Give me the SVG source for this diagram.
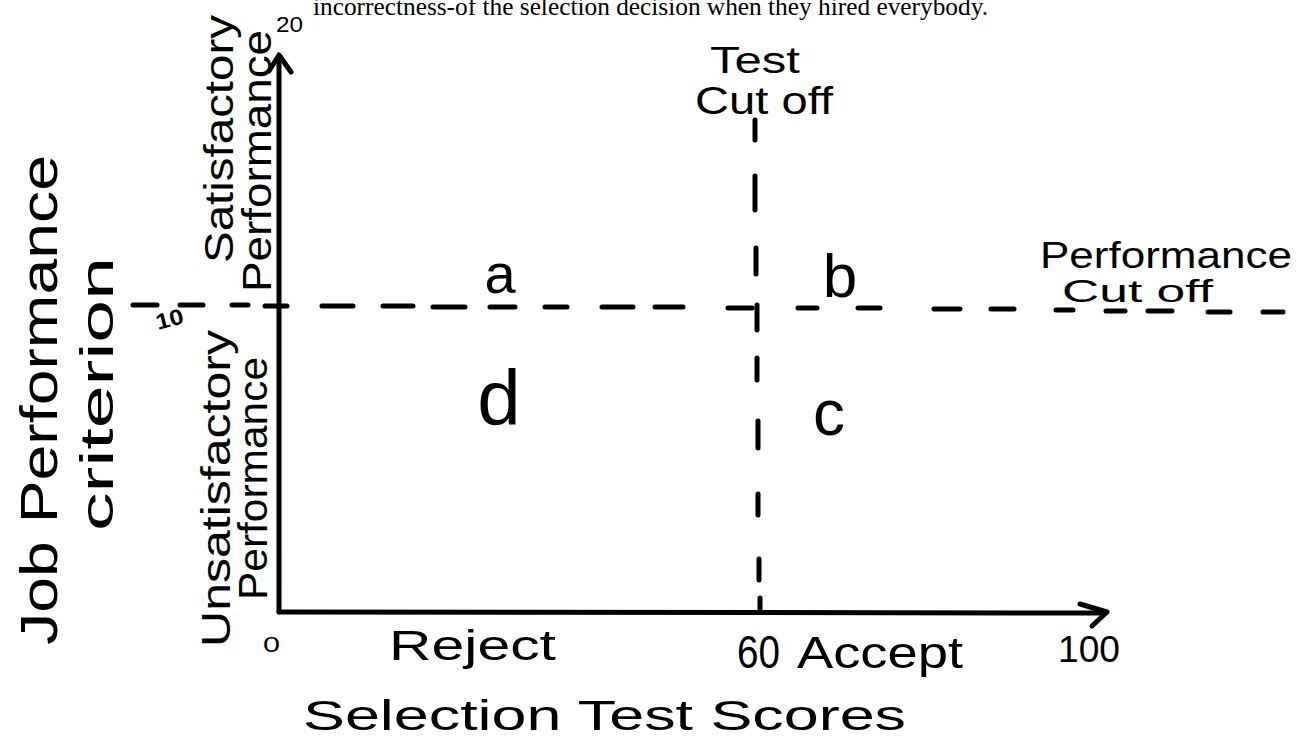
<svg xmlns="http://www.w3.org/2000/svg" width="1310" height="739" viewBox="0 0 1310 739">
<style>
.hand{font-family:"Liberation Sans","DejaVu Sans",sans-serif;fill:#000;}
.serif{font-family:"Liberation Serif","Times New Roman",serif;fill:#000;}
.axis{stroke:#000;stroke-width:5;fill:none;stroke-linecap:round;stroke-linejoin:round;}
.dash{stroke:#000;stroke-width:5;fill:none;stroke-linecap:round;}
</style>
<rect width="1310" height="739" fill="#fff"/>
<g id="header"><text class="serif" x="313" y="15" font-size="26" textLength="675" lengthAdjust="spacingAndGlyphs">incorrectness-of the selection decision when they hired everybody.</text></g>
<g id="connectors">
<path class="axis" d="M279 612 L279 56"/>
<path class="axis" d="M269 71 L279 55 L291 72"/>
<path class="axis" d="M279 612 L1105 613"/>
<path class="axis" d="M1080 604 L1107 612 L1092 626"/>
<path class="dash" d="M133 305h24 M180 305h23 M232 305h16 M265 306h22 M322 306h31 M383 306h30 M433 307h32 M490 307h25 M545 307h22 M602 307h31 M655 307h28 M728 308h24 M798 308h19 M858 308h22 M934 309h26 M991 309h23 M1056 310h17 M1106 311h19 M1148 311h24 M1208 312h22 M1263 312h20"/>
<path class="dash" d="M755 120v20 M755 176v34 M756 248v26 M757 305v25 M757 358v22 M758 421v27 M758 494v21 M759 559v21 M760 598v12"/>
</g>
<g id="y-title"><text class="hand" transform="translate(57,645) rotate(-90)" font-size="52" textLength="490" lengthAdjust="spacingAndGlyphs">Job Performance</text>
<text class="hand" transform="translate(113,531) rotate(-90)" font-size="46" textLength="274" lengthAdjust="spacingAndGlyphs">criterion</text></g>
<g id="satisfactory"><text class="hand" transform="translate(233,263) rotate(-90)" font-size="40" textLength="248" lengthAdjust="spacingAndGlyphs">Satisfactory</text>
<text class="hand" transform="translate(271,292) rotate(-90)" font-size="40" textLength="262" lengthAdjust="spacingAndGlyphs">Performance</text></g>
<g id="unsatisfactory"><text class="hand" transform="translate(230,647) rotate(-90)" font-size="40" textLength="317" lengthAdjust="spacingAndGlyphs">Unsatisfactory</text>
<text class="hand" transform="translate(267,600) rotate(-90)" font-size="40" textLength="243" lengthAdjust="spacingAndGlyphs">Performance</text></g>
<g id="tick-20"><text class="hand" x="276" y="32" font-size="22" textLength="27" lengthAdjust="spacingAndGlyphs">20</text></g>
<g id="tick-10"><text class="hand" transform="translate(158,330) rotate(-15)" font-size="22" font-weight="bold" textLength="28" lengthAdjust="spacingAndGlyphs">10</text></g>
<g id="tick-0"><text class="hand" x="263" y="652" font-size="22" textLength="17" lengthAdjust="spacingAndGlyphs">0</text></g>
<g id="test-cutoff"><text class="hand" x="710" y="73" font-size="36" textLength="90" lengthAdjust="spacingAndGlyphs">Test</text>
<text class="hand" x="695" y="114" font-size="38" textLength="138" lengthAdjust="spacingAndGlyphs">Cut off</text></g>
<g id="perf-cutoff"><text class="hand" x="1040" y="268" font-size="36" textLength="252" lengthAdjust="spacingAndGlyphs">Performance</text>
<text class="hand" x="1062" y="302" font-size="32" textLength="151" lengthAdjust="spacingAndGlyphs">Cut off</text></g>
<g id="cell-a"><text class="hand" x="500" y="293" font-size="56" text-anchor="middle">a</text></g>
<g id="cell-b"><text class="hand" x="840" y="297" font-size="62" text-anchor="middle">b</text></g>
<g id="cell-d"><text class="hand" x="499" y="425" font-size="78" text-anchor="middle">d</text></g>
<g id="cell-c"><text class="hand" x="829" y="435" font-size="64" text-anchor="middle">c</text></g>
<g id="x-labels"><text class="hand" x="389" y="660" font-size="42" textLength="167" lengthAdjust="spacingAndGlyphs">Reject</text>
<text class="hand" x="737" y="668" font-size="46" textLength="43" lengthAdjust="spacingAndGlyphs">60</text>
<text class="hand" x="797" y="668" font-size="44" textLength="166" lengthAdjust="spacingAndGlyphs">Accept</text>
<text class="hand" x="1058" y="662" font-size="36" textLength="62" lengthAdjust="spacingAndGlyphs">100</text></g>
<g id="x-title"><text class="hand" x="303" y="730" font-size="42" textLength="603" lengthAdjust="spacingAndGlyphs">Selection Test Scores</text></g>
</svg>
